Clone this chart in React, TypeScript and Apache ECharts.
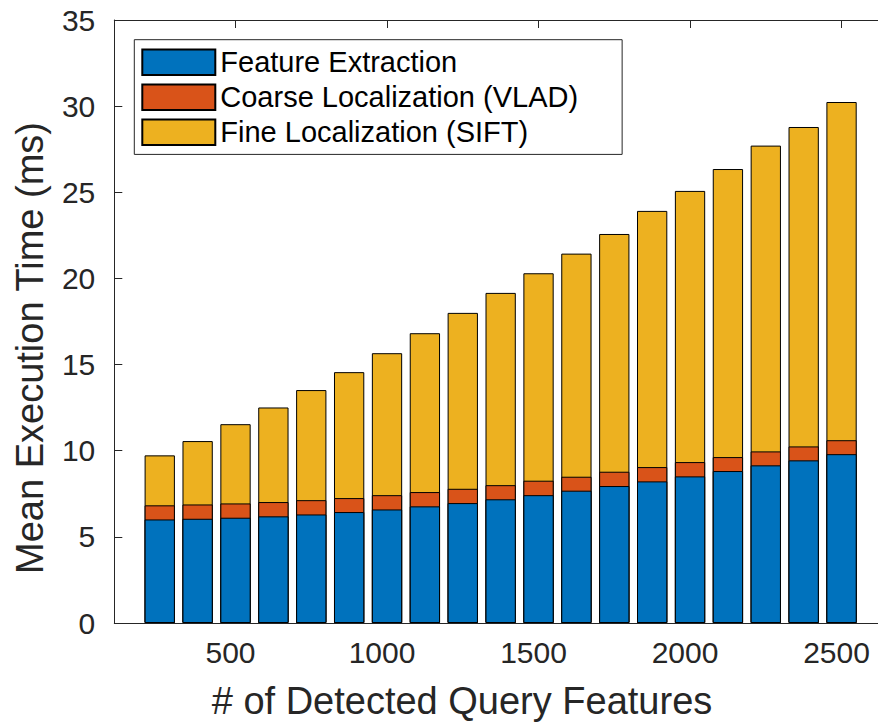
import React, { useEffect, useRef } from "react";
import * as echarts from "echarts";

const xValues = [250, 375, 500, 625, 750, 875, 1000, 1125, 1250, 1375, 1500, 1625, 1750, 1875, 2000, 2125, 2250, 2375, 2500];
const featureExtraction = [6.01, 6.05, 6.11, 6.19, 6.3, 6.44, 6.59, 6.77, 6.96, 7.18, 7.42, 7.68, 7.95, 8.22, 8.51, 8.82, 9.15, 9.44, 9.8];
const coarseLocalization = [0.82, 0.83, 0.83, 0.83, 0.83, 0.81, 0.83, 0.83, 0.83, 0.82, 0.84, 0.81, 0.83, 0.83, 0.83, 0.81, 0.81, 0.81, 0.81];
const fineLocalization = [2.9, 3.68, 4.6, 5.49, 6.39, 7.31, 8.24, 9.22, 10.21, 11.16, 12.04, 12.95, 13.8, 14.87, 15.74, 16.72, 17.75, 18.54, 19.63];
const xTicks = [500, 1000, 1500, 2000, 2500];
const seriesNames = ["Feature Extraction", "Coarse Localization (VLAD)", "Fine Localization (SIFT)"];
const seriesColors = ["#0072BD", "#D95319", "#EDB120"];
const xTitle = "# of Detected Query Features";
const yTitle = "Mean Execution Time (ms)";

const FONT = "'Liberation Sans', Arial, Helvetica, sans-serif";
const AXIS = "#262626";

export default function App() {
  const ref = useRef<HTMLDivElement>(null);
  useEffect(() => {
    if (!ref.current) return;
    const chart = echarts.init(ref.current, undefined, { renderer: "svg" });
    const allSeries = [featureExtraction, coarseLocalization, fineLocalization];
    // cumulative tops of each stacked segment (stack drawn as overlapping bars from 0)
    const cumulative = allSeries.map((_, i) =>
      xValues.map((_, j) => {
        let s = 0;
        for (let k = 0; k <= i; k++) s += allSeries[k][j];
        return +s.toFixed(4);
      })
    );
    const xMin = 100;
    const xMax = 2650;
    const commonX = {
      type: "value" as const,
      min: xMin,
      max: xMax,
      splitLine: { show: false },
      axisLine: { show: true, onZero: false, lineStyle: { color: AXIS, width: 1 } },
      axisTick: { show: true, inside: true, length: 8, customValues: xTicks, lineStyle: { color: AXIS } },
    };
    const commonY = {
      type: "value" as const,
      min: 0,
      max: 35,
      interval: 5,
      splitLine: { show: false },
      axisLine: { show: true, lineStyle: { color: AXIS, width: 1 } },
      axisTick: { show: true, inside: true, length: 8, lineStyle: { color: AXIS } },
    };
    const order = [2, 1, 0];
    chart.setOption({
      animation: false,
      backgroundColor: "#ffffff",
      grid: { left: 114.3, top: 20, width: 772.7, height: 603, outerBoundsMode: "none" },
      xAxis: [
        {
          ...commonX,
          position: "bottom",
          axisLabel: {
            show: true,
            customValues: xTicks,
            formatter: (v: number) => String(v),
            fontSize: 30,
            color: AXIS,
            fontFamily: FONT,
            margin: 14,
            padding: [0, 10, 0, 0],
          },
        },
        { ...commonX, position: "top", axisLabel: { show: false } },
      ],
      yAxis: [
        {
          ...commonY,
          position: "left",
          axisLabel: { show: true, fontSize: 30, color: AXIS, fontFamily: FONT, margin: 19 },
        },
        { ...commonY, position: "right", axisLabel: { show: false } },
      ],
      legend: {
        show: true,
        orient: "vertical",
        left: 134.3,
        top: 39.7,
        padding: [8, 44, 7.7, 7],
        itemWidth: 73,
        itemHeight: 25.6,
        itemGap: 6,
        icon: "rect",
        backgroundColor: "#ffffff",
        borderColor: AXIS,
        borderWidth: 1,
        borderRadius: 0,
        selectedMode: false,
        textStyle: { fontSize: 29, color: "#000000", fontFamily: FONT },
        data: seriesNames,
      },
      series: order.map((i, n) => ({
        name: seriesNames[i],
        type: "bar",
        xAxisIndex: 0,
        yAxisIndex: 0,
        barWidth: 30.3,
        barGap: "-100%",
        z: 2 + n,
        itemStyle: { color: seriesColors[i], borderColor: "#000000", borderWidth: 1 },
        data: cumulative[i].map((v, j) => [xValues[j], v]),
      })),
      graphic: [
        {
          type: "text",
          x: 462,
          y: 701,
          style: {
            text: xTitle,
            fontSize: 38,
            fontFamily: FONT,
            fill: AXIS,
            textAlign: "center",
            textVerticalAlign: "middle",
          },
        },
        {
          type: "text",
          x: 29.5,
          y: 348,
          rotation: Math.PI / 2,
          style: {
            text: yTitle,
            fontSize: 38,
            fontFamily: FONT,
            fill: AXIS,
            textAlign: "center",
            textVerticalAlign: "middle",
          },
        },
      ],
    });
    return () => chart.dispose();
  }, []);
  return (
    <div
      ref={ref}
      style={{ position: "fixed", left: 0, top: 0, width: 900, height: 722, background: "#fff" }}
    />
  );
}
